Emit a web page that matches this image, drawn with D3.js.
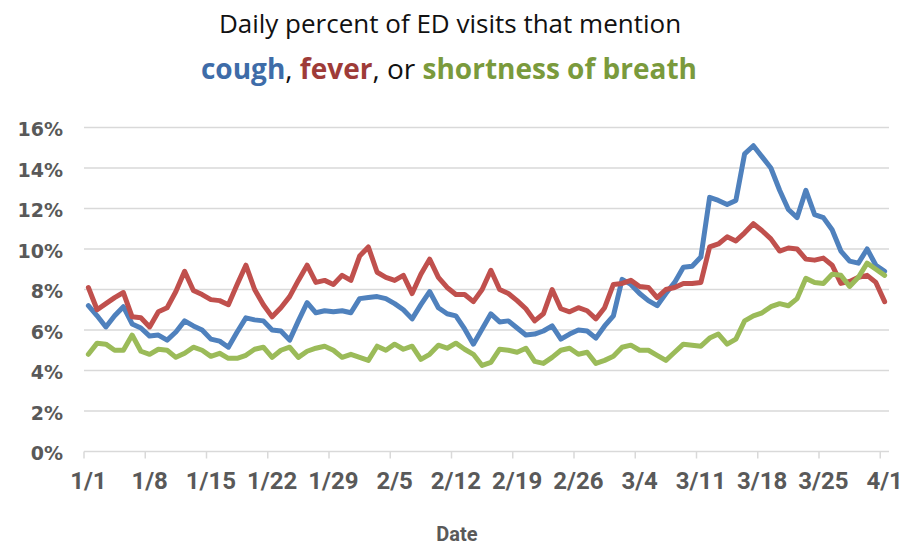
<!DOCTYPE html>
<html><head><meta charset="utf-8">
<script src="https://cdn.jsdelivr.net/npm/d3@7"></script>
<style>
html,body{margin:0;padding:0;background:#fff;}
svg{display:block;}
</style></head>
<body>
<svg id="chart" width="915" height="550"></svg>
<script>
// Dates: 2020-01-01 .. 2020-04-01 (daily)
const dates = d3.timeDay.range(new Date(2020,0,1), new Date(2020,3,2));
const tickLabels = ["1/1","1/8","1/15","1/22","1/29","2/5","2/12","2/19","2/26","3/4","3/11","3/18","3/25","4/1"];
const yTicks = [0,2,4,6,8,10,12,14,16];

const cough = [7.2,6.7,6.15,6.7,7.15,6.3,6.1,5.7,5.75,5.5,5.9,6.45,6.2,6.0,5.55,5.45,5.15,5.9,6.6,6.5,6.45,6.0,5.95,5.5,
  6.45,7.35,6.85,6.95,6.9,6.95,6.85,7.55,7.6,7.65,7.55,7.3,7.0,6.55,7.25,7.9,7.1,6.8,6.7,6.05,5.3,6.05,
  6.8,6.4,6.45,6.1,5.75,5.8,5.95,6.2,5.55,5.8,6.0,5.95,5.6,6.2,6.7,8.5,8.25,7.8,7.45,7.2,7.8,8.35,9.1,
  9.15,9.6,12.55,12.4,12.2,12.4,14.7,15.1,14.55,14.0,12.9,11.95,11.55,12.9,11.7,11.55,10.95,9.9,9.4,9.3,10.0,9.2,8.9];
const fever = [8.1,7.0,7.3,7.6,7.85,6.65,6.6,6.15,6.9,7.1,7.9,8.9,7.95,7.75,7.5,7.45,7.25,8.25,9.2,8.0,7.25,6.65,7.1,7.65,
  8.45,9.2,8.35,8.45,8.25,8.7,8.45,9.65,10.1,8.85,8.6,8.45,8.7,7.8,8.75,9.5,8.6,8.1,7.75,7.75,7.4,8.0,
  8.95,8.0,7.8,7.45,7.05,6.45,6.8,8.0,7.05,6.9,7.1,6.95,6.55,7.1,8.25,8.3,8.45,8.15,8.1,7.6,8.0,8.1,8.3,
  8.3,8.35,10.1,10.25,10.6,10.4,10.8,11.25,10.9,10.5,9.9,10.05,10.0,9.5,9.45,9.55,9.2,8.3,8.4,8.6,8.7,8.35,7.4];
const breath = [4.8,5.35,5.3,5.0,5.0,5.75,4.95,4.8,5.05,5.0,4.65,4.85,5.15,5.0,4.7,4.85,4.6,4.6,4.75,5.05,5.15,4.65,5.0,5.15,
  4.65,4.95,5.1,5.2,5.0,4.65,4.8,4.65,4.5,5.2,5.0,5.3,5.05,5.2,4.55,4.8,5.25,5.1,5.35,5.05,4.8,4.25,
  4.4,5.05,5.0,4.9,5.1,4.45,4.35,4.65,5.0,5.1,4.8,4.9,4.35,4.5,4.7,5.15,5.25,5.0,5.0,4.75,4.5,4.9,5.3,
  5.25,5.2,5.6,5.8,5.3,5.55,6.45,6.7,6.85,7.15,7.3,7.2,7.55,8.55,8.35,8.3,8.75,8.7,8.15,8.6,9.3,9.0,8.7];

const series = [
  {name:"cough", values:cough, color:"#4F81BD"},
  {name:"fever", values:fever, color:"#C0504D"},
  {name:"breath", values:breath, color:"#9BBB59"}
];

const svg = d3.select("#chart");
const fmt = d3.timeFormat("%-m/%-d");

const x = d3.scaleBand().domain(dates.map(fmt)).range([84, 889]).padding(0);
const y = d3.scaleLinear().domain([0,16]).range([451.5,127.5]);

// gridlines
svg.append("g").selectAll("line").data(yTicks.filter(d=>d>0)).join("line")
  .attr("x1",84).attr("x2",889)
  .attr("y1",d=>y(d)).attr("y2",d=>y(d))
  .attr("stroke","#d9d9d9").attr("stroke-width",1.5);

// y labels
svg.append("g").selectAll("text").data(yTicks).join("text")
  .attr("x",63).attr("y",d=>y(d)+8.5)
  .attr("text-anchor","end")
  .attr("font-family","'DejaVu Sans', sans-serif")
  .attr("font-weight","700").attr("font-size","19px").attr("fill","#595959")
  .text(d=>d+"%");

// x axis
const xAxisG = svg.append("g");
xAxisG.append("line").attr("x1",84).attr("x2",889).attr("y1",y(0)).attr("y2",y(0))
  .attr("stroke","#d9d9d9").attr("stroke-width",1.5);
const tickCats = x.domain().filter(d=>tickLabels.includes(d));
xAxisG.selectAll("line.tk").data(tickCats).join("line").attr("class","tk")
  .attr("x1",d=>x(d)).attr("x2",d=>x(d))
  .attr("y1",y(0)).attr("y2",y(0)+7)
  .attr("stroke","#d9d9d9").attr("stroke-width",1.5);
xAxisG.selectAll("text").data(tickCats).join("text")
  .attr("x",d=>x(d)+x.bandwidth()/2).attr("y",489)
  .attr("text-anchor","middle")
  .attr("font-family","Roboto, sans-serif")
  .attr("font-weight","700").attr("font-size","24px").attr("fill","#595959")
  .text(d=>d);

// axis title
svg.append("text").attr("x",457).attr("y",541).attr("text-anchor","middle")
  .attr("font-family","Roboto, sans-serif")
  .attr("font-weight","700").attr("font-size","20px").attr("fill","#595959")
  .text("Date");

// lines
const line = d3.line()
  .x((d,i)=>x(x.domain()[i])+x.bandwidth()/2)
  .y(d=>y(d));
svg.append("g").selectAll("path").data(series).join("path")
  .attr("d",s=>line(s.values))
  .attr("fill","none").attr("stroke",s=>s.color)
  .attr("stroke-width",5).attr("stroke-linejoin","round").attr("stroke-linecap","round");

// title
svg.append("text").attr("x",450).attr("y",33).attr("text-anchor","middle")
  .attr("font-family","'Open Sans', sans-serif").attr("font-size","26px").attr("fill","#111")
  .text("Daily percent of ED visits that mention");
const t2 = svg.append("text").attr("x",449).attr("y",79).attr("text-anchor","middle")
  .attr("font-family","'Open Sans', sans-serif").attr("font-size","28px");
t2.append("tspan").attr("font-weight","700").attr("fill","#3E6CA8").text("cough");
t2.append("tspan").attr("fill","#111").text(",  ");
t2.append("tspan").attr("font-weight","700").attr("fill","#9E3B38").text("fever");
t2.append("tspan").attr("fill","#111").text(", or ");
t2.append("tspan").attr("font-weight","700").attr("fill","#7A9A3C").text("shortness of breath");
</script>
</body></html>
